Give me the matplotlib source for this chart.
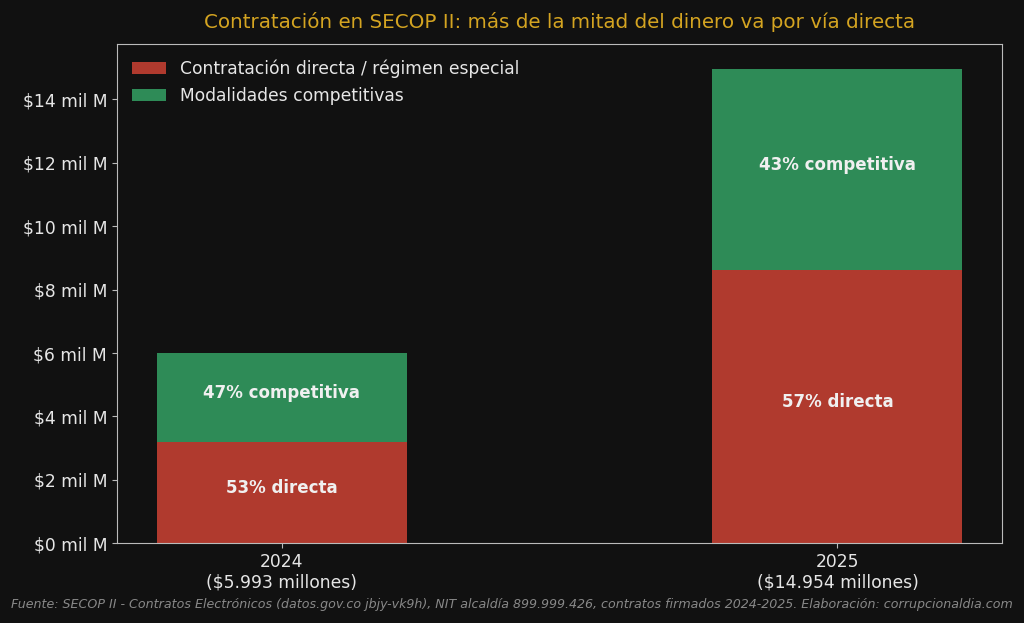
import matplotlib
matplotlib.use("Agg")
import matplotlib.pyplot as plt
import numpy as np

# datos (en mil millones de pesos)
anios = ["2024", "2025"]
totales_txt = ["$5.993 millones", "$14.954 millones"]
directa = [3.19, 8.61]
competitiva = [2.803, 6.344]
pct_directa = [53, 57]
pct_competitiva = [47, 43]

fondo = "#111111"
rojo = "#b03a2e"
verde = "#2e8b57"
texto = "#e6e6e6"

fig, ax = plt.subplots(figsize=(10.24, 6.23), dpi=100)
fig.patch.set_facecolor(fondo)
ax.set_facecolor(fondo)

x = np.arange(len(anios))
ancho = 0.45
b1 = ax.bar(x, directa, ancho, color=rojo, label="Contratación directa / régimen especial")
b2 = ax.bar(x, competitiva, ancho, bottom=directa, color=verde, label="Modalidades competitivas")

for i in range(len(anios)):
    ax.text(x[i], directa[i] / 2, f"{pct_directa[i]}% directa", ha="center", va="baseline",
            color="#f0f0f0", fontsize=12, fontweight="bold")
    ax.text(x[i], directa[i] + competitiva[i] / 2, f"{pct_competitiva[i]}% competitiva",
            ha="center", va="baseline", color="#f0f0f0", fontsize=12, fontweight="bold")

ax.set_xticks(x)
ax.set_xticklabels([f"{a}\n({t})" for a, t in zip(anios, totales_txt)], fontsize=12.3)
ax.set_xlim(-0.297, 1.297)
ax.set_ylim(0, 15.74)
ax.set_yticks(np.arange(0, 15, 2))
ax.set_yticklabels([f"${v} mil M" for v in range(0, 15, 2)], fontsize=12.3)
ax.tick_params(colors="#bbbbbb", labelcolor=texto)
for s in ax.spines.values():
    s.set_color("#bbbbbb")

ax.set_title("Contratación en SECOP II: más de la mitad del dinero va por vía directa",
             color="#d4a421", fontsize=14.3, pad=12)
leg = ax.legend(loc="upper left", fontsize=12.3, frameon=False, labelcolor=texto)

fig.text(0.5, 0.024, "Fuente: SECOP II - Contratos Electrónicos (datos.gov.co jbjy-vk9h), NIT alcaldía 899.999.426, "
         "contratos firmados 2024-2025. Elaboración: corrupcionaldia.com",
         ha="center", fontsize=9.1, style="italic", color="#888888")

plt.subplots_adjust(left=0.114, right=0.979, top=0.929, bottom=0.128)
plt.savefig("out.png", facecolor=fondo)
